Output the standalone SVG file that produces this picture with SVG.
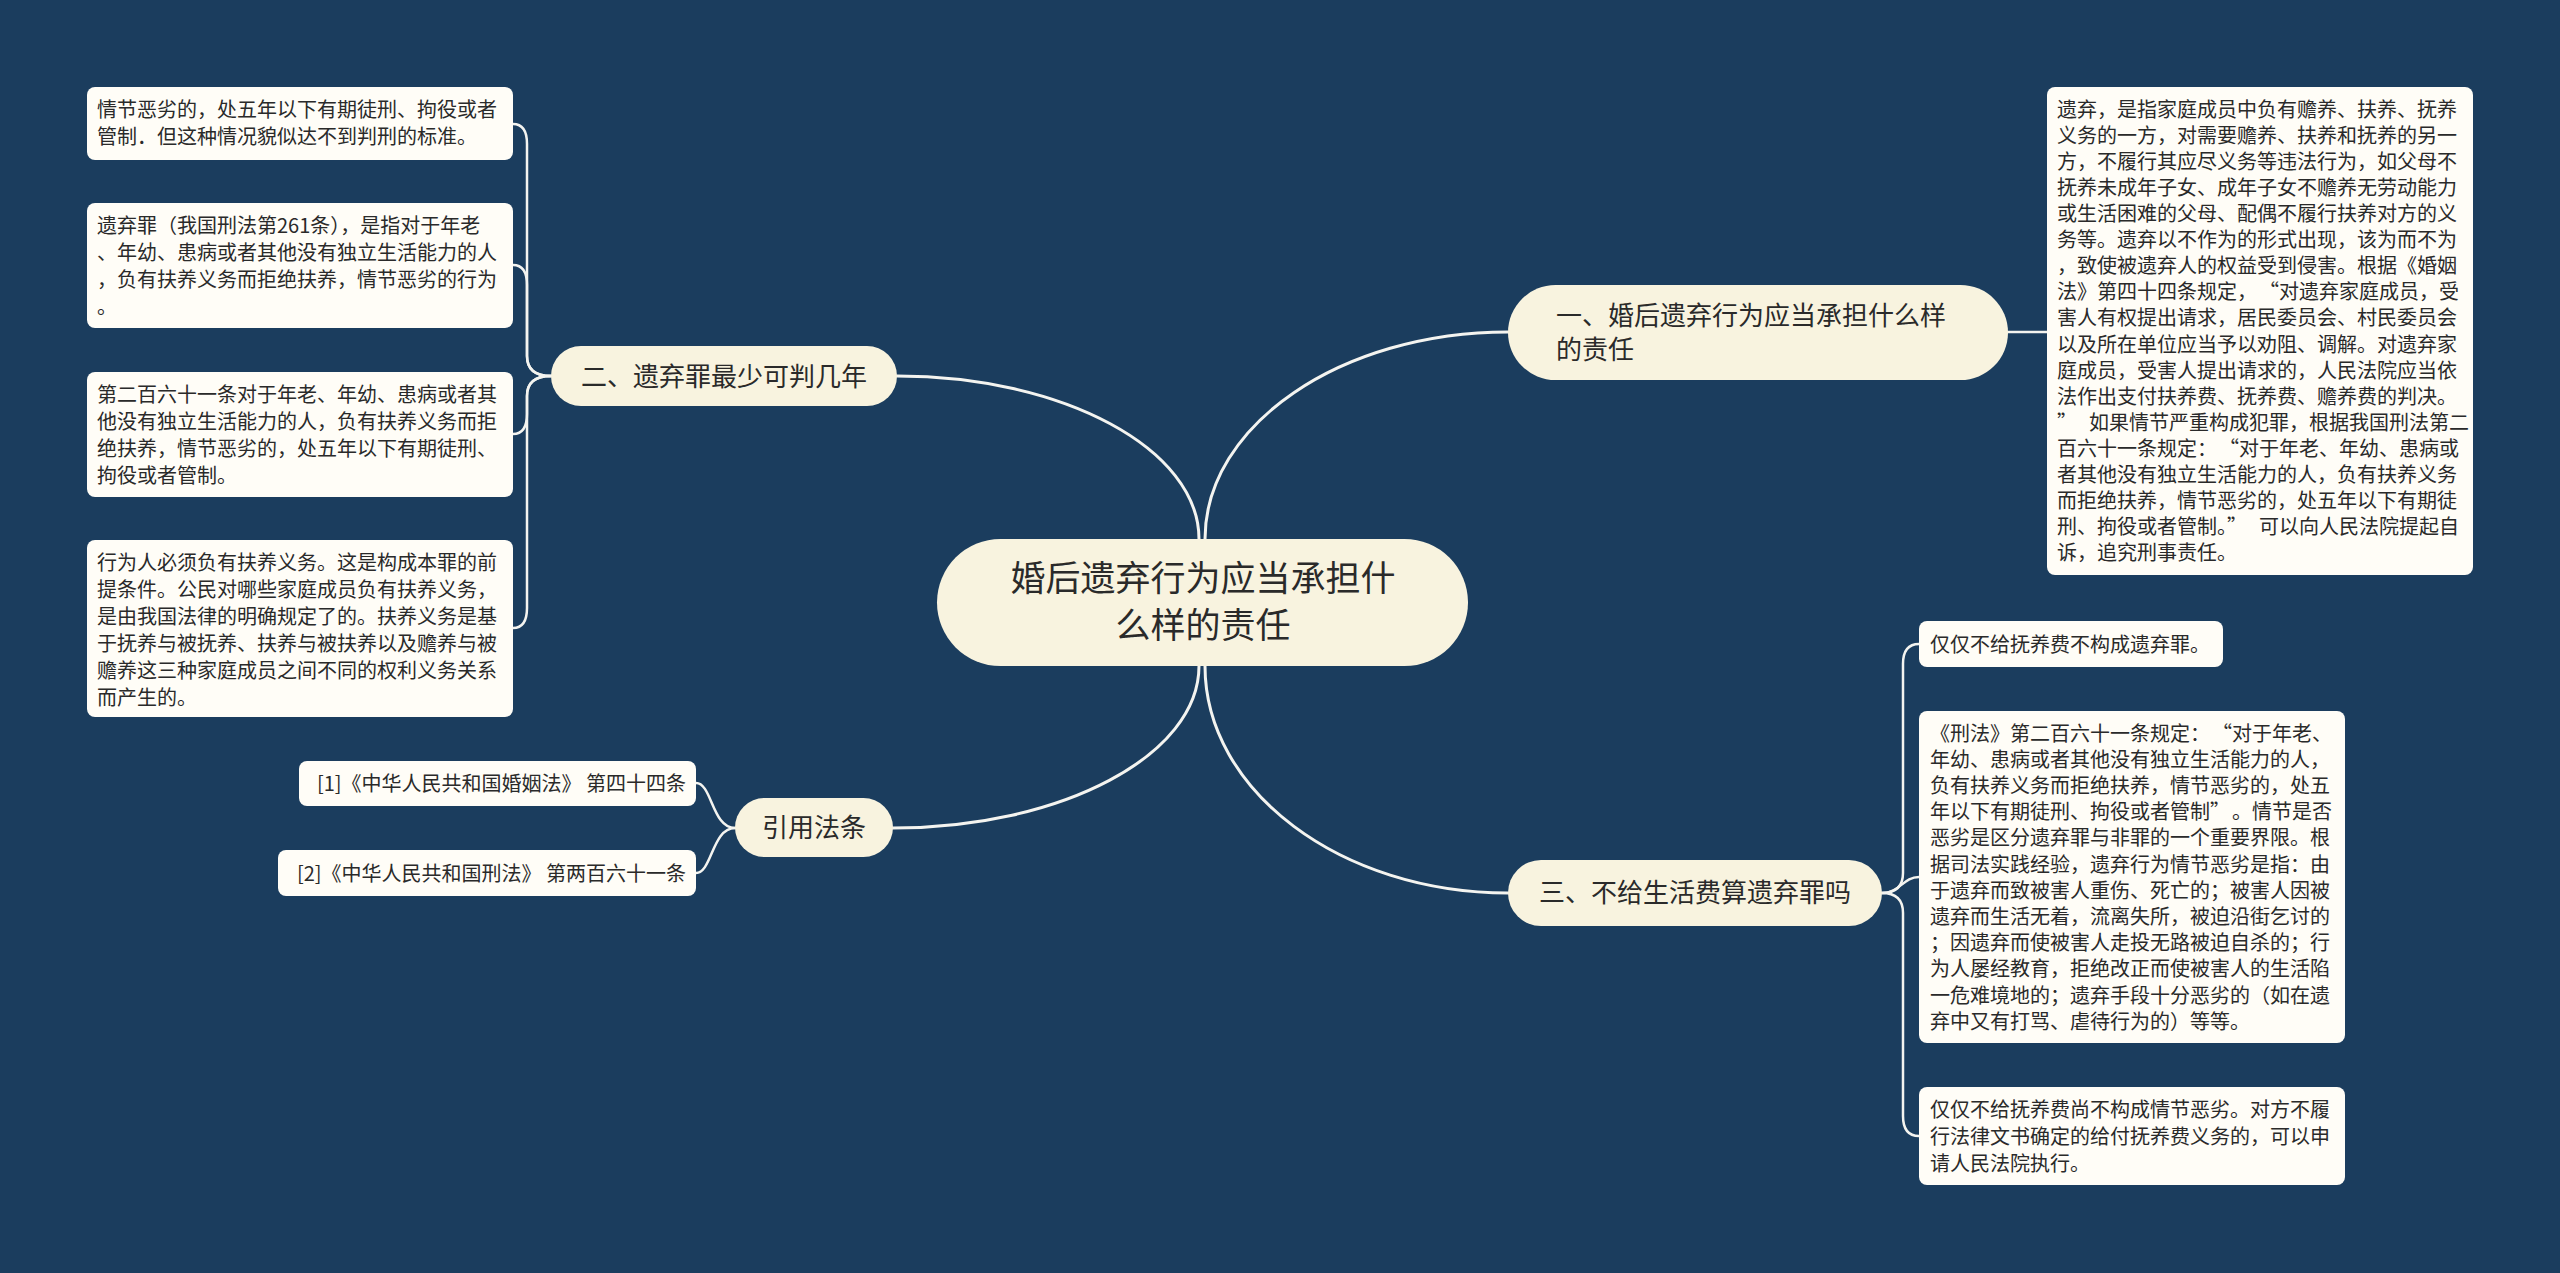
<svg xmlns="http://www.w3.org/2000/svg" width="2560" height="1273" viewBox="0 0 2560 1273">
<style>
.main{fill:#f8f3df}
.leaf{fill:#fffdf7}
text{font-family:"Noto Sans CJK SC","Noto Sans",sans-serif;fill:#2a2a2a}
.s20{font-size:20px}
.s26{font-size:26px}
.s35{font-size:35px}
.conn path{fill:none;stroke:#f4f4f0;stroke-linecap:round}
.c1{stroke-width:3}
.c2{stroke-width:2.5}
</style>
<rect x="0" y="0" width="2560" height="1273" fill="#1b3d5e"/>
<g class="conn" id="connectors">
<path class="c1" d="M 897 376 C 1063 376, 1199 449, 1199 539"/>
<path class="c1" d="M 1508 332 C 1341 332, 1205 425, 1205 539"/>
<path class="c1" d="M 1205 666 C 1205 791, 1341 893, 1508 893"/>
<path class="c1" d="M 1199 666 C 1199 755, 1062 828, 893 828"/>
<path class="c2" d="M 551 376 Q 527 376 527 356 L 527 144 Q 527 124 513 124"/>
<path class="c2" d="M 551 376 Q 527 376 527 356 L 527 285 Q 527 265 513 265"/>
<path class="c2" d="M 551 376 Q 527 376 527 396 L 527 414 Q 527 434 513 434"/>
<path class="c2" d="M 551 376 Q 527 376 527 396 L 527 608 Q 527 628 513 628"/>
<path class="c2" d="M 2008 332 L 2047 332"/>
<path class="c2" d="M 1882 893 Q 1903 893 1903 873 L 1903 664 Q 1903 644 1919 644"/>
<path class="c2" d="M 1882 893 C 1900 893, 1903 877, 1919 877"/>
<path class="c2" d="M 1882 893 Q 1903 893 1903 913 L 1903 1116 Q 1903 1136 1919 1136"/>
<path class="c2" d="M 735 828 C 712 828, 712 783, 696 783"/>
<path class="c2" d="M 735 828 C 712 828, 712 873, 696 873"/>
</g>
<g id="root">
<rect class="main" x="937" y="539" width="531" height="127" rx="63.5"/>
<text class="s35" text-anchor="middle"><tspan x="1203" y="591">婚后遗弃行为应当承担什</tspan><tspan x="1203" y="638">么样的责任</tspan></text>
</g>
<g id="n1">
<rect class="main" x="1508" y="285" width="500" height="95" rx="47.5"/>
<text class="s26"><tspan x="1556" y="325">一、婚后遗弃行为应当承担什么样</tspan><tspan x="1556" y="359">的责任</tspan></text>
</g>
<g id="n2">
<rect class="main" x="551" y="346" width="346" height="60" rx="30"/>
<text class="s26" x="724" y="386" text-anchor="middle">二、遗弃罪最少可判几年</text>
</g>
<g id="n3">
<rect class="main" x="1508" y="860" width="374" height="66" rx="33"/>
<text class="s26" x="1695" y="902" text-anchor="middle">三、不给生活费算遗弃罪吗</text>
</g>
<g id="n4">
<rect class="main" x="735" y="798" width="158" height="59" rx="29.5"/>
<text class="s26" x="814" y="837" text-anchor="middle">引用法条</text>
</g>
<g id="l1">
<rect class="leaf" x="87" y="87" width="426" height="73" rx="8"/>
<text class="s20"><tspan x="97" y="116.5">情节恶劣的，处五年以下有期徒刑、拘役或者</tspan><tspan x="97" y="143.5">管制．但这种情况貌似达不到判刑的标准。</tspan></text>
</g>
<g id="l2">
<rect class="leaf" x="87" y="203" width="426" height="125" rx="8"/>
<text class="s20"><tspan x="97" y="233">遗弃罪（我国刑法第261条），是指对于年老</tspan><tspan x="97" y="260">、年幼、患病或者其他没有独立生活能力的人</tspan><tspan x="97" y="287">，负有扶养义务而拒绝扶养，情节恶劣的行为</tspan><tspan x="97" y="314">。</tspan></text>
</g>
<g id="l3">
<rect class="leaf" x="87" y="372" width="426" height="125" rx="8"/>
<text class="s20"><tspan x="97" y="401.5">第二百六十一条对于年老、年幼、患病或者其</tspan><tspan x="97" y="428.5">他没有独立生活能力的人，负有扶养义务而拒</tspan><tspan x="97" y="455.5">绝扶养，情节恶劣的，处五年以下有期徒刑、</tspan><tspan x="97" y="482.5">拘役或者管制。</tspan></text>
</g>
<g id="l4">
<rect class="leaf" x="87" y="540" width="426" height="177" rx="8"/>
<text class="s20"><tspan x="97" y="569.5">行为人必须负有扶养义务。这是构成本罪的前</tspan><tspan x="97" y="596.5">提条件。公民对哪些家庭成员负有扶养义务，</tspan><tspan x="97" y="623.5">是由我国法律的明确规定了的。扶养义务是基</tspan><tspan x="97" y="650.5">于抚养与被抚养、扶养与被扶养以及赡养与被</tspan><tspan x="97" y="677.5">赡养这三种家庭成员之间不同的权利义务关系</tspan><tspan x="97" y="704.5">而产生的。</tspan></text>
</g>
<g id="r1">
<rect class="leaf" x="2047" y="87" width="426" height="488" rx="8"/>
<text class="s20"><tspan x="2057" y="116.6">遗弃，是指家庭成员中负有赡养、扶养、抚养</tspan><tspan x="2057" y="142.7">义务的一方，对需要赡养、扶养和抚养的另一</tspan><tspan x="2057" y="168.8">方，不履行其应尽义务等违法行为，如父母不</tspan><tspan x="2057" y="194.9">抚养未成年子女、成年子女不赡养无劳动能力</tspan><tspan x="2057" y="221">或生活困难的父母、配偶不履行扶养对方的义</tspan><tspan x="2057" y="247.1">务等。遗弃以不作为的形式出现，该为而不为</tspan><tspan x="2057" y="273.2">，致使被遗弃人的权益受到侵害。根据《婚姻</tspan><tspan x="2057" y="299.3">法》第四十四条规定，<tspan dx="12">“</tspan>对遗弃家庭成员，受</tspan><tspan x="2057" y="325.4">害人有权提出请求，居民委员会、村民委员会</tspan><tspan x="2057" y="351.5">以及所在单位应当予以劝阻、调解。对遗弃家</tspan><tspan x="2057" y="377.6">庭成员，受害人提出请求的，人民法院应当依</tspan><tspan x="2057" y="403.7">法作出支付扶养费、抚养费、赡养费的判决。</tspan><tspan x="2057" y="429.8">”<tspan dx="12">如果情节严重构成犯罪，根据我国刑法第二</tspan></tspan><tspan x="2057" y="455.9">百六十一条规定：<tspan dx="12">“</tspan>对于年老、年幼、患病或</tspan><tspan x="2057" y="482">者其他没有独立生活能力的人，负有扶养义务</tspan><tspan x="2057" y="508.1">而拒绝扶养，情节恶劣的，处五年以下有期徒</tspan><tspan x="2057" y="534.2">刑、拘役或者管制。”<tspan dx="12">可以向人民法院提起自</tspan></tspan><tspan x="2057" y="560.3">诉，追究刑事责任。</tspan></text>
</g>
<g id="r2">
<rect class="leaf" x="1919" y="621" width="304" height="46" rx="8"/>
<text class="s20" x="1930" y="651.5">仅仅不给抚养费不构成遗弃罪。</text>
</g>
<g id="r3">
<rect class="leaf" x="1919" y="711" width="426" height="332" rx="8"/>
<text class="s20"><tspan x="1930" y="740.6">《刑法》第二百六十一条规定：<tspan dx="12">“</tspan>对于年老、</tspan><tspan x="1930" y="766.8">年幼、患病或者其他没有独立生活能力的人，</tspan><tspan x="1930" y="793">负有扶养义务而拒绝扶养，情节恶劣的，处五</tspan><tspan x="1930" y="819.2">年以下有期徒刑、拘役或者管制”<tspan dx="12">。情节是否</tspan></tspan><tspan x="1930" y="845.4">恶劣是区分遗弃罪与非罪的一个重要界限。根</tspan><tspan x="1930" y="871.6">据司法实践经验，遗弃行为情节恶劣是指：由</tspan><tspan x="1930" y="897.8">于遗弃而致被害人重伤、死亡的；被害人因被</tspan><tspan x="1930" y="924">遗弃而生活无着，流离失所，被迫沿街乞讨的</tspan><tspan x="1930" y="950.2">；因遗弃而使被害人走投无路被迫自杀的；行</tspan><tspan x="1930" y="976.4">为人屡经教育，拒绝改正而使被害人的生活陷</tspan><tspan x="1930" y="1002.6">一危难境地的；遗弃手段十分恶劣的（如在遗</tspan><tspan x="1930" y="1028.8">弃中又有打骂、虐待行为的）等等。</tspan></text>
</g>
<g id="r4">
<rect class="leaf" x="1919" y="1087" width="426" height="98" rx="8"/>
<text class="s20"><tspan x="1930" y="1116.6">仅仅不给抚养费尚不构成情节恶劣。对方不履</tspan><tspan x="1930" y="1143.6">行法律文书确定的给付抚养费义务的，可以申</tspan><tspan x="1930" y="1170.6">请人民法院执行。</tspan></text>
</g>
<g id="c1">
<rect class="leaf" x="299" y="761" width="397" height="45" rx="8"/>
<text class="s20" x="686" y="791" text-anchor="end">[1]《中华人民共和国婚姻法》 第四十四条</text>
</g>
<g id="c2">
<rect class="leaf" x="278" y="850" width="418" height="46" rx="8"/>
<text class="s20" x="686" y="880.5" text-anchor="end">[2]《中华人民共和国刑法》 第两百六十一条</text>
</g>
</svg>
